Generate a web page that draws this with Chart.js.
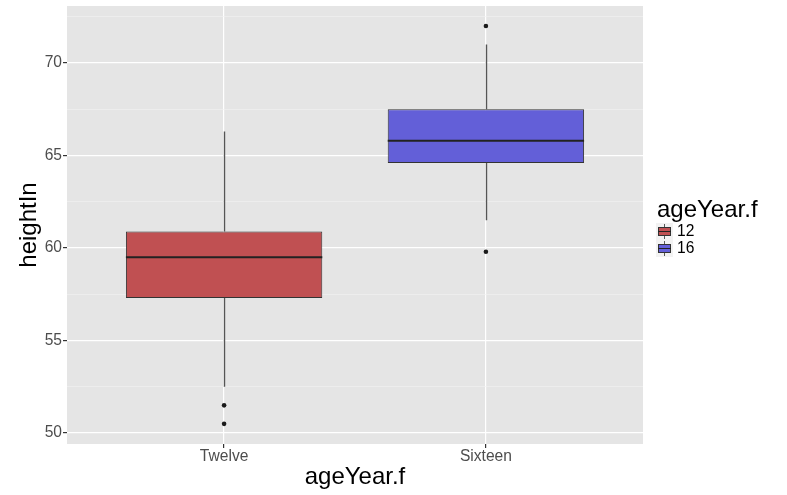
<!DOCTYPE html>
<html>
<head>
<meta charset="utf-8">
<script src="https://cdn.jsdelivr.net/npm/chart.js@4/dist/chart.umd.min.js"></script>
<style>
  html, body { margin: 0; padding: 0; background: #ffffff; }
  #wrap { position: relative; width: 787px; height: 495px; }
</style>
</head>
<body>
<div id="wrap"><canvas id="chart" width="787" height="495"></canvas></div>
<script>
// Height (inches) by age group: box-and-whisker summaries
const categories = ['Twelve', 'Sixteen'];
const groupLabels = ['12', '16'];
const q1 = [57.3, 64.6];
const median = [59.5, 65.8];
const q3 = [60.9, 67.5];
const whiskerLow = [52.5, 61.5];
const whiskerHigh = [66.3, 71.0];
const outliers = [[51.5, 50.5], [72.0, 59.8]];
const majorTicks = [50, 55, 60, 65, 70];
const minorTicks = [52.5, 57.5, 62.5, 67.5, 72.5];

const fills = ['#C05052', '#635FD8'];
const FONT = "'Liberation Sans', Arial, Helvetica, sans-serif";

const boxData = categories.map((c, i) => ({ x: i + 1, y: [q1[i], q3[i]] }));
const outlierData = [];
outliers.forEach((list, i) => list.forEach(v => outlierData.push({ x: i + 1, y: v })));

const boxPlugin = {
  id: 'boxParts',
  beforeDraw(chart) {
    const { ctx, chartArea: a } = chart;
    ctx.save();
    ctx.fillStyle = '#E5E5E5';
    ctx.fillRect(a.left, a.top, a.right - a.left, a.bottom - a.top);
    ctx.restore();
  },
  beforeDatasetsDraw(chart) {
    const { ctx, scales: { x, y } } = chart;
    ctx.save();
    ctx.strokeStyle = '#555555';
    ctx.lineWidth = 1.4;
    categories.forEach((c, i) => {
      const px = Math.round(x.getPixelForValue(i + 1)) + 0.5;
      ctx.beginPath();
      ctx.moveTo(px, y.getPixelForValue(q3[i]));
      ctx.lineTo(px, y.getPixelForValue(whiskerHigh[i]));
      ctx.moveTo(px, y.getPixelForValue(q1[i]));
      ctx.lineTo(px, y.getPixelForValue(whiskerLow[i]));
      ctx.stroke();
    });
    ctx.restore();
  },
  afterDatasetsDraw(chart) {
    const { ctx, scales: { y } } = chart;
    const meta = chart.getDatasetMeta(0);
    ctx.save();
    ctx.strokeStyle = '#222222';
    ctx.lineWidth = 2;
    meta.data.forEach((bar, i) => {
      const half = bar.width / 2;
      const py = y.getPixelForValue(median[i]);
      ctx.beginPath();
      ctx.moveTo(bar.x - half, py);
      ctx.lineTo(bar.x + half, py);
      ctx.stroke();
    });
    ctx.restore();
  },
  afterDraw(chart) {
    // legend on the right
    const { ctx } = chart;
    ctx.save();
    ctx.fillStyle = '#000000';
    ctx.font = '24px ' + FONT;
    ctx.textAlign = 'left';
    ctx.textBaseline = 'alphabetic';
    ctx.fillText('ageYear.f', 657, 217);
    groupLabels.forEach((lab, i) => {
      const top = 223 + i * 17;
      ctx.fillStyle = '#F2F2F2';
      ctx.fillRect(656, top, 17, 17);
      ctx.strokeStyle = '#595959';
      ctx.lineWidth = 1;
      ctx.beginPath();
      ctx.moveTo(664.5, top + 1);
      ctx.lineTo(664.5, top + 16);
      ctx.stroke();
      ctx.fillStyle = fills[i];
      ctx.fillRect(658, top + 4, 13, 9);
      ctx.strokeStyle = '#333333';
      ctx.strokeRect(658.5, top + 4.5, 12, 8);
      ctx.strokeStyle = '#222222';
      ctx.beginPath();
      ctx.moveTo(658, top + 8.5);
      ctx.lineTo(671, top + 8.5);
      ctx.stroke();
      ctx.fillStyle = '#000000';
      ctx.font = '15.6px ' + FONT;
      ctx.textBaseline = 'middle';
      ctx.fillText(lab, 677, top + 9);
    });
    ctx.restore();
  }
};

new Chart(document.getElementById('chart'), {
  type: 'bar',
  data: {
    datasets: [
      {
        type: 'bar',
        data: boxData,
        backgroundColor: fills,
        borderColor: '#333333',
        borderWidth: 1,
        borderSkipped: false,
        barPercentage: 0.75,
        categoryPercentage: 1,
        order: 2
      },
      {
        type: 'scatter',
        data: outlierData,
        backgroundColor: '#1a1a1a',
        borderWidth: 0,
        pointRadius: 2.3,
        order: 1
      }
    ]
  },
  plugins: [boxPlugin],
  options: {
    responsive: false,
    animation: false,
    layout: { padding: { top: 6, right: 144, left: 0, bottom: 0 } },
    plugins: { legend: { display: false }, tooltip: { enabled: false } },
    scales: {
      x: {
        type: 'linear',
        min: 0.4,
        max: 2.6,
        offset: false,
        afterBuildTicks(scale) { scale.ticks = categories.map((c, i) => ({ value: i + 1 })); },
        afterFit(scale) { scale.height = 51; scale.paddingLeft = 0; scale.paddingRight = 0; },
        ticks: {
          callback: (v) => categories[Math.round(v) - 1],
          color: '#4D4D4D',
          font: { family: FONT, size: 15.6 },
          padding: -1,
          maxRotation: 0,
          autoSkip: false
        },
        grid: { offset: false, color: '#FFFFFF', lineWidth: 1.2, tickLength: 4, tickColor: '#333333' },
        border: { display: false },
        title: {
          display: true,
          text: 'ageYear.f',
          color: '#000000',
          font: { family: FONT, size: 24 },
          padding: { top: 0, bottom: 3.6 }
        }
      },
      y: {
        min: 49.41,
        max: 73.08,
        afterBuildTicks(scale) {
          scale.ticks = majorTicks.concat(minorTicks).sort((a, b) => a - b).map(v => ({ value: v }));
        },
        afterFit(scale) { scale.width = 67; scale.paddingTop = 0; scale.paddingBottom = 0; },
        ticks: {
          callback: (v) => (majorTicks.includes(v) ? String(v) : ''),
          color: '#4D4D4D',
          font: { family: FONT, size: 15.6 },
          padding: 1,
          autoSkip: false
        },
        grid: {
          color: (c) => (majorTicks.includes(c.tick.value) ? '#FFFFFF' : '#F2F2F2'),
          lineWidth: (c) => (majorTicks.includes(c.tick.value) ? 1.2 : 0.6),
          tickLength: 4,
          tickColor: (c) => (majorTicks.includes(c.tick.value) ? '#333333' : 'rgba(0,0,0,0)')
        },
        border: { display: false },
        title: {
          display: true,
          text: 'heightIn',
          color: '#000000',
          font: { family: FONT, size: 24 },
          padding: { top: 14.6, bottom: 0 }
        }
      }
    }
  }
});
</script>
</body>
</html>
